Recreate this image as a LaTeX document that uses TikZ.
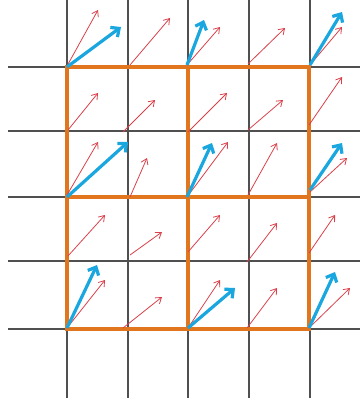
\documentclass[tikz,border=0pt]{standalone}
\usetikzlibrary{arrows.meta}
\definecolor{gridc}{HTML}{505050}
\definecolor{orangec}{HTML}{E2761E}
\definecolor{redc}{HTML}{D9404A}
\definecolor{bluec}{HTML}{1AA6DE}
\tikzset{
  gridline/.style={draw=gridc, line width=1.1pt},
  blockline/.style={draw=orangec, line width=3.4pt, line cap=rect},
  redarrow/.style={draw=redc, line width=0.8pt, -{Straight Barb[length=5.5pt,width=7.5pt]}},
  bluearrow/.style={draw=bluec, line width=3.2pt, -{Straight Barb[length=6.5pt,width=12pt]}}
}
\begin{document}
\begin{tikzpicture}[x=1pt,y=-1pt]
\useasboundingbox (0,0) rectangle (360,403);
% grid
\foreach \x in {67,128,188,249,310} \draw[gridline] (\x,0) -- (\x,398);
\foreach \y in {67,131,197,261,329} \draw[gridline] (8,\y) -- (360,\y);
% orange blocks
\draw[blockline] (67,67) rectangle (309,329);
\draw[blockline] (188,67) -- (188,329);
\draw[blockline] (67,197) -- (309,197);
% red arrows
\foreach \n/\a/\b/\c/\d in {
 1/67/66/98/10, 2/130/65/170/18, 3/187/65/220/27, 4/248/64/285/28, 5/310/65/342/27,
 6/68/130/98/93, 7/123/132/155/100, 8/188/132/227/93, 9/248/130/283/100, 10/309/125/342/77,
 11/67/195/98/142, 12/130/197/147/158, 13/187/197/228/142, 14/248/195/277/143, 15/310/192/347/158,
 16/68/256/105/215, 17/130/255/162/232, 18/188/252/220/215, 19/247/262/277/223, 20/309/253/335/215,
 21/67/328/105/280, 22/123/328/162/297, 23/188/328/220/280, 24/247/328/277/288, 25/309/328/350/288}
{
  \coordinate (r\n s) at (\a,\b);
  \coordinate (r\n e) at (\c,\d);
  \draw[redarrow] (r\n s) -- (r\n e);
}
% blue arrows
\foreach \n/\a/\b/\c/\d in {
 1/67/67/121/27, 2/187/65/204/20, 3/310/65/342/12,
 4/67/197/128/142, 5/187/197/212/143, 6/310/190/342/143,
 7/67/328/97/265, 8/188/328/235/288, 9/309/328/335/272}
{
  \coordinate (b\n s) at (\a,\b);
  \coordinate (b\n e) at (\c,\d);
  \draw[bluearrow] (b\n s) -- (b\n e);
}
\end{tikzpicture}
\end{document}
